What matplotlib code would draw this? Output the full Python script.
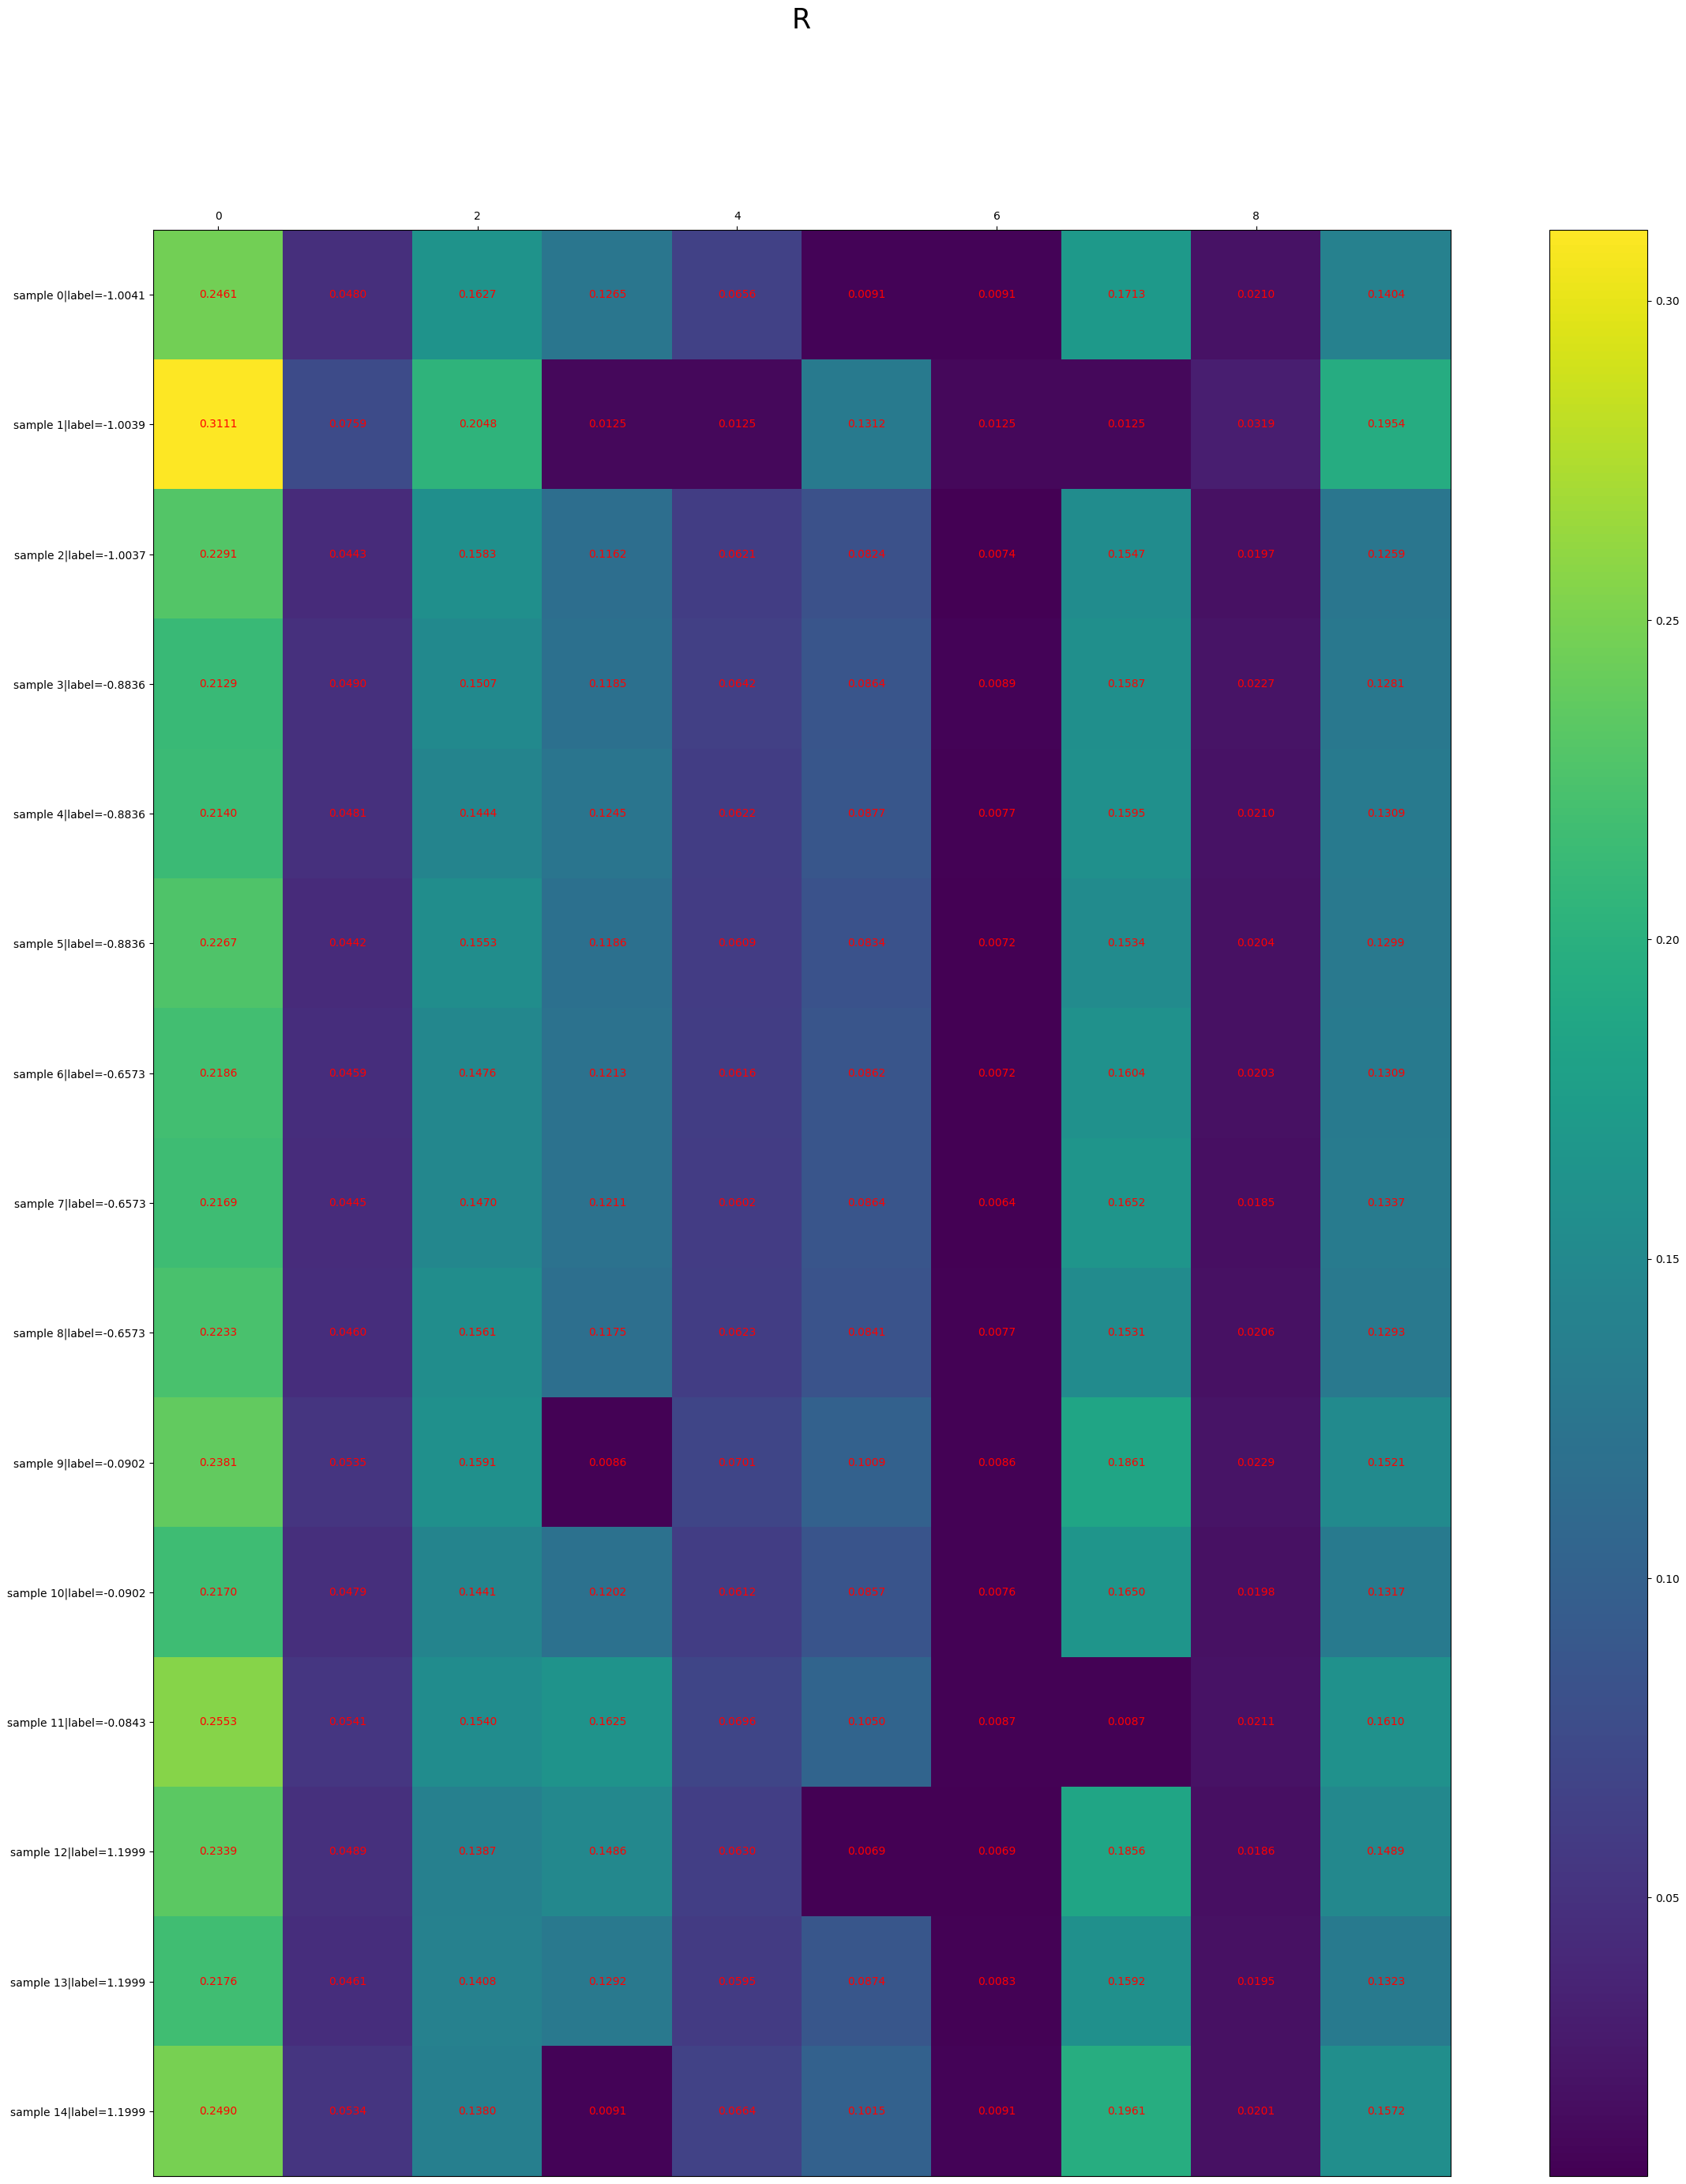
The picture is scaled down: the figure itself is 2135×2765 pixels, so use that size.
import numpy as np
import matplotlib
matplotlib.use("Agg")
import matplotlib.pyplot as plt

labels = [-1.0041, -1.0039, -1.0037, -0.8836, -0.8836, -0.8836, -0.6573, -0.6573,
          -0.6573, -0.0902, -0.0902, -0.0843, 1.1999, 1.1999, 1.1999]

R = np.array([
    [0.2461, 0.0480, 0.1627, 0.1265, 0.0656, 0.0091, 0.0091, 0.1713, 0.0210, 0.1404],
    [0.3111, 0.0759, 0.2048, 0.0125, 0.0125, 0.1312, 0.0125, 0.0125, 0.0319, 0.1954],
    [0.2291, 0.0443, 0.1583, 0.1162, 0.0621, 0.0824, 0.0074, 0.1547, 0.0197, 0.1259],
    [0.2129, 0.0490, 0.1507, 0.1185, 0.0642, 0.0864, 0.0089, 0.1587, 0.0227, 0.1281],
    [0.2140, 0.0481, 0.1444, 0.1245, 0.0622, 0.0877, 0.0077, 0.1595, 0.0210, 0.1309],
    [0.2267, 0.0442, 0.1553, 0.1186, 0.0609, 0.0834, 0.0072, 0.1534, 0.0204, 0.1299],
    [0.2186, 0.0459, 0.1476, 0.1213, 0.0616, 0.0862, 0.0072, 0.1604, 0.0203, 0.1309],
    [0.2169, 0.0445, 0.1470, 0.1211, 0.0602, 0.0864, 0.0064, 0.1652, 0.0185, 0.1337],
    [0.2233, 0.0460, 0.1561, 0.1175, 0.0623, 0.0841, 0.0077, 0.1531, 0.0206, 0.1293],
    [0.2381, 0.0535, 0.1591, 0.0086, 0.0701, 0.1009, 0.0086, 0.1861, 0.0229, 0.1521],
    [0.2170, 0.0479, 0.1441, 0.1202, 0.0612, 0.0857, 0.0076, 0.1650, 0.0198, 0.1317],
    [0.2553, 0.0541, 0.1540, 0.1625, 0.0696, 0.1050, 0.0087, 0.0087, 0.0211, 0.1610],
    [0.2339, 0.0489, 0.1387, 0.1486, 0.0630, 0.0069, 0.0069, 0.1856, 0.0186, 0.1489],
    [0.2176, 0.0461, 0.1408, 0.1292, 0.0595, 0.0874, 0.0083, 0.1592, 0.0195, 0.1323],
    [0.2490, 0.0534, 0.1380, 0.0091, 0.0664, 0.1015, 0.0091, 0.1961, 0.0201, 0.1572],
])

ytick_labels = [f"sample {i}|label={l:.4f}" for i, l in enumerate(labels)]

fig = plt.figure(figsize=(21.35, 27.65), dpi=100)
ax = fig.add_axes([194/2135, 1 - 2755/2765, 1643/2135, 2464/2765])
cax = fig.add_axes([1962/2135, 1 - 2755/2765, 124/2135, 2464/2765])

im = ax.matshow(R, cmap='viridis', aspect='auto')
for i in range(R.shape[0]):
    for j in range(R.shape[1]):
        ax.text(j, i, f'{R[i, j]:.4f}', ha='center', va='center', color='red', fontsize=10)

ax.set_yticks(range(len(ytick_labels)))
ax.set_yticklabels(ytick_labels, fontsize=10)
ax.tick_params(axis='x', labelsize=10, bottom=False)
fig.colorbar(im, cax=cax)
cax.tick_params(labelsize=10)

fig.text(1015/2135, 1 - 26/2765, 'R', fontsize=25, ha='center', va='center')

plt.savefig('out.png', dpi=100)
